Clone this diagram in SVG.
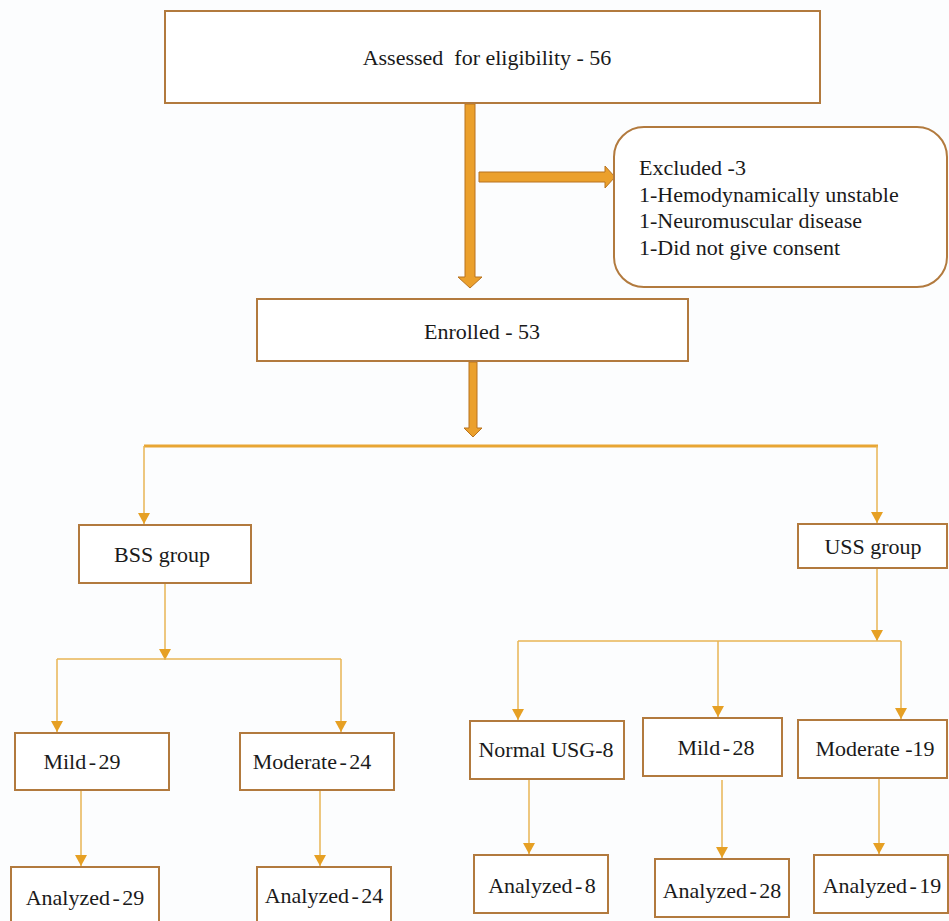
<svg xmlns="http://www.w3.org/2000/svg" width="949" height="921" viewBox="0 0 949 921">
<style>
.box{fill:#ffffff;stroke:#B27A3E;stroke-width:2}
text{font-family:'Liberation Serif','Tinos','Times New Roman','DejaVu Serif',serif;font-size:22px;fill:#1a1a1a}
.c{text-anchor:middle}
.tight{word-spacing:-3px}
.block{fill:#EBA02C;stroke:#B8731F;stroke-width:1}
.thick{stroke:#E8A634;stroke-width:3;fill:none}
.thin{stroke:#E8B555;stroke-width:1.5;fill:none}
</style>
<defs>
<marker id="ah" markerUnits="userSpaceOnUse" markerWidth="12" markerHeight="14" viewBox="0 0 12 14" refX="11" refY="7" orient="auto">
<path d="M0,1 L11,7 L0,13 Z" fill="#E6A024"/>
</marker>
</defs>
<rect width="949" height="921" fill="#FCFDFE"/>

<g id="connectors">
<path class="block" d="M465,104 L475,104 L475,277 L482,277 L470,288 L458,277 L465,277 Z"/>
<path class="block" d="M479,172 L605,172 L605,166 L615,177 L605,188 L605,182 L479,182 Z"/>
<path class="block" d="M469,362 L477,362 L477,428 L482,428 L473,437 L464,428 L469,428 Z"/>
<path class="thick" d="M144,446 L878,446"/>
<path class="thin" d="M144,446 L144,524" marker-end="url(#ah)"/>
<path class="thin" d="M877,446 L877,523" marker-end="url(#ah)"/>
<path class="thin" d="M165,583 L165,660" marker-end="url(#ah)"/>
<path class="thin" d="M57,659 L341,659"/>
<path class="thin" d="M57,659 L57,732" marker-end="url(#ah)"/>
<path class="thin" d="M341,659 L341,732" marker-end="url(#ah)"/>
<path class="thin" d="M877,568 L877,641" marker-end="url(#ah)"/>
<path class="thin" d="M518,641 L901,641"/>
<path class="thin" d="M518,641 L518,720" marker-end="url(#ah)"/>
<path class="thin" d="M718,641 L718,717" marker-end="url(#ah)"/>
<path class="thin" d="M901,641 L901,719" marker-end="url(#ah)"/>
<path class="thin" d="M81,790 L81,866" marker-end="url(#ah)"/>
<path class="thin" d="M320,790 L320,866" marker-end="url(#ah)"/>
<path class="thin" d="M529,779 L529,854" marker-end="url(#ah)"/>
<path class="thin" d="M722,780 L722,858" marker-end="url(#ah)"/>
<path class="thin" d="M879,778 L879,854" marker-end="url(#ah)"/>
</g>

<g id="assessed">
<rect class="box" x="165" y="11" width="655" height="92"/>
<text class="c" x="487" y="65" xml:space="preserve">Assessed  for eligibility - 56</text>
</g>
<g id="excluded">
<rect class="box" x="614" y="127" width="333" height="160" rx="30" ry="30"/>
<text x="639" y="175">Excluded -3</text>
<text x="639" y="202">1-Hemodynamically unstable</text>
<text x="639" y="228">1-Neuromuscular disease</text>
<text x="639" y="255">1-Did not give consent</text>
</g>
<g id="enrolled">
<rect class="box" x="257" y="299" width="431" height="62"/>
<text class="c" x="482" y="339">Enrolled - 53</text>
</g>
<g id="bss">
<rect class="box" x="79" y="525" width="172" height="58"/>
<text class="c" x="162" y="562">BSS group</text>
</g>
<g id="uss">
<rect class="box" x="798" y="524" width="149" height="44"/>
<text class="c" x="873" y="554">USS group</text>
</g>
<g id="bss-mild">
<rect class="box" x="15" y="733" width="154" height="57"/>
<text class="c tight" x="82" y="769">Mild - 29</text>
</g>
<g id="bss-moderate">
<rect class="box" x="240" y="733" width="154" height="57"/>
<text class="c tight" x="312" y="769">Moderate - 24</text>
</g>
<g id="uss-normal">
<rect class="box" x="470" y="721" width="154" height="58"/>
<text class="c" x="546" y="757">Normal USG-8</text>
</g>
<g id="uss-mild">
<rect class="box" x="643" y="718" width="139" height="58"/>
<text class="c tight" x="716" y="755">Mild - 28</text>
</g>
<g id="uss-moderate">
<rect class="box" x="798" y="720" width="149" height="58"/>
<text class="c" x="875" y="756">Moderate -19</text>
</g>
<g id="analyzed-29">
<rect class="box" x="11" y="867" width="148" height="60"/>
<text class="c tight" x="85" y="905">Analyzed - 29</text>
</g>
<g id="analyzed-24">
<rect class="box" x="257" y="867" width="134" height="60"/>
<text class="c tight" x="324" y="903">Analyzed - 24</text>
</g>
<g id="analyzed-8">
<rect class="box" x="474" y="855" width="134" height="58"/>
<text class="c tight" x="542" y="893">Analyzed - 8</text>
</g>
<g id="analyzed-28">
<rect class="box" x="655" y="859" width="134" height="58"/>
<text class="c tight" x="722" y="898">Analyzed - 28</text>
</g>
<g id="analyzed-19">
<rect class="box" x="814" y="855" width="134" height="58"/>
<text class="c tight" x="882" y="893">Analyzed - 19</text>
</g>
</svg>
